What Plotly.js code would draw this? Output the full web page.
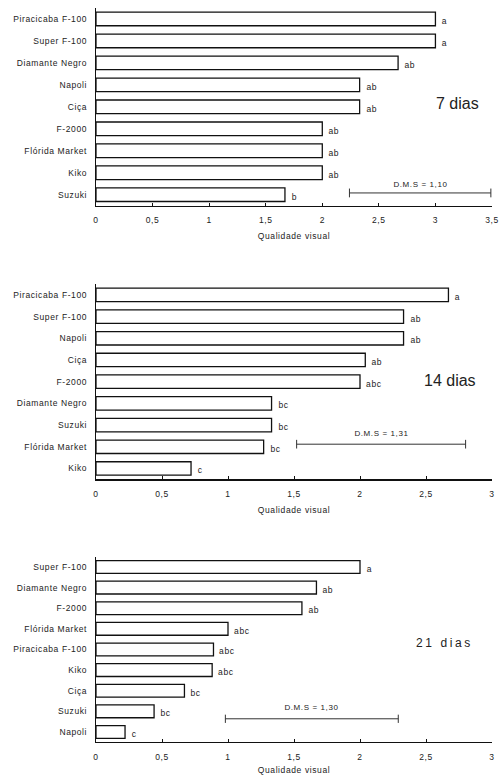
<!DOCTYPE html>
<html>
<head>
<meta charset="utf-8">
<script src="https://cdn.plot.ly/plotly-3.0.1.min.js"></script>
<style>
html,body{margin:0;padding:0;background:#fff;}
#chart text{letter-spacing:0.6px;}
</style>
</head>
<body>
<div id="chart" style="width:504px;height:775px;"></div>
<script>
// ---- Data ----
const cat7 = ['Piracicaba F-100','Super F-100','Diamante Negro','Napoli','Ciça','F-2000','Flórida Market','Kiko','Suzuki'];
const val7 = [3.0, 3.0, 2.67, 2.33, 2.33, 2.0, 2.0, 2.0, 1.67];
const let7 = ['a','a','ab','ab','ab','ab','ab','ab','b'];

const cat14 = ['Piracicaba F-100','Super F-100','Napoli','Ciça','F-2000','Diamante Negro','Suzuki','Flórida Market','Kiko'];
const val14 = [2.67, 2.33, 2.33, 2.04, 2.0, 1.33, 1.33, 1.27, 0.72];
const let14 = ['a','ab','ab','ab','abc','bc','bc','bc','c'];

const cat21 = ['Super F-100','Diamante Negro','F-2000','Flórida Market','Piracicaba F-100','Kiko','Ciça','Suzuki','Napoli'];
const val21 = [2.0, 1.67, 1.56, 1.0, 0.89, 0.88, 0.67, 0.44, 0.22];
const let21 = ['a','ab','ab','abc','abc','abc','bc','bc','c'];

const panelTitles = ['7 dias', '14 dias', '21 dias'];
const dmsLabels = ['D.M.S = 1,10', 'D.M.S = 1,31', 'D.M.S = 1,30'];
const dmsStart = [2.24, 1.52, 0.98];
const dmsEnd = [3.49, 2.80, 2.29];
const xTitle = 'Qualidade visual';

// ---- Build ----
const FONT = '"Liberation Sans", Arial, sans-serif';
const TXT = '#222';
const panels = [
  {cat: cat7, val: val7, lt: let7, xa: 'x', ya: 'y', range: [0, 3.5], dom: [0.7346, 0.9897], dmsY: 7.92, dmsLY: 7.55, tpos: [0.912, 0.866], tsize: 16, tls: 0},
  {cat: cat14, val: val14, lt: let14, xa: 'x2', ya: 'y2', range: [0, 3], dom: [0.3815, 0.6335], dmsY: 6.88, dmsLY: 6.40, tpos: [0.894, 0.5084], tsize: 16, tls: 0},
  {cat: cat21, val: val21, lt: let21, xa: 'x3', ya: 'y3', range: [0, 3], dom: [0.0422, 0.2817], dmsY: 7.36, dmsLY: 6.80, tpos: [0.881, 0.1707], tsize: 12, tls: 2.6}
];

const traces = [];
const annotations = [];
const shapes = [];
const layout = {
  width: 504, height: 775,
  margin: {l: 96, r: 12, t: 0, b: 0},
  paper_bgcolor: '#fff', plot_bgcolor: '#fff',
  showlegend: false,
  separators: ', ',
  font: {family: FONT, size: 8.5, color: TXT}
};

panels.forEach((p, i) => {
  traces.push({
    type: 'bar', orientation: 'h',
    x: p.val, y: p.cat,
    xaxis: p.xa, yaxis: p.ya,
    width: 0.62,
    marker: {color: '#fff', line: {color: '#111', width: 1.3}},
    hoverinfo: 'x+y'
  });
  const xk = p.xa === 'x' ? 'xaxis' : 'xaxis' + p.xa.slice(1);
  const yk = p.ya === 'y' ? 'yaxis' : 'yaxis' + p.ya.slice(1);
  layout[xk] = {
    domain: [0, 1], anchor: p.ya, range: p.range, dtick: 0.5, tick0: 0,
    showgrid: false, zeroline: false, showline: true, linecolor: '#111', linewidth: 1.2,
    ticks: 'inside', ticklen: 3, tickcolor: '#111', tickwidth: 1,
    tickfont: {family: FONT, size: 8.5, color: TXT},
    ticklabelstandoff: 6,
    title: {text: xTitle, font: {family: FONT, size: 8.5, color: TXT}, standoff: 9},
    fixedrange: true
  };
  layout[yk] = {
    domain: p.dom, anchor: p.xa, type: 'category',
    categoryorder: 'array', categoryarray: p.cat,
    range: [8.5, -0.5],
    showgrid: false, zeroline: false, showline: true, linecolor: '#111', linewidth: 1.2,
    ticks: '', tickfont: {family: FONT, size: 8.5, color: TXT},
    ticklabelstandoff: 6,
    fixedrange: true
  };
  // significance letters
  p.cat.forEach((c, j) => {
    annotations.push({
      xref: p.xa, yref: p.ya, x: p.val[j], y: j,
      text: p.lt[j], showarrow: false, xanchor: 'left', yanchor: 'middle',
      xshift: 5, yshift: -2,
      font: {family: FONT, size: 8.5, color: TXT}
    });
  });
  // DMS bar
  shapes.push({type: 'line', xref: p.xa, yref: p.ya, x0: dmsStart[i], x1: dmsEnd[i], y0: p.dmsY, y1: p.dmsY, line: {color: '#333', width: 1}});
  shapes.push({type: 'line', xref: p.xa, yref: p.ya, x0: dmsStart[i], x1: dmsStart[i], y0: p.dmsY - 0.2, y1: p.dmsY + 0.2, line: {color: '#333', width: 1}});
  shapes.push({type: 'line', xref: p.xa, yref: p.ya, x0: dmsEnd[i], x1: dmsEnd[i], y0: p.dmsY - 0.2, y1: p.dmsY + 0.2, line: {color: '#333', width: 1}});
  annotations.push({
    xref: p.xa, yref: p.ya, x: (dmsStart[i] + dmsEnd[i]) / 2, y: p.dmsLY,
    text: dmsLabels[i], showarrow: false, xanchor: 'center', yanchor: 'middle',
    font: {family: FONT, size: 8, color: TXT}
  });
  // panel title
  annotations.push({
    xref: 'paper', yref: 'paper', x: p.tpos[0], y: p.tpos[1],
    text: panelTitles[i], showarrow: false, xanchor: 'center', yanchor: 'middle',
    font: {family: FONT, size: p.tsize, color: TXT}
  });
});
layout.annotations = annotations;
layout.shapes = shapes;

Plotly.newPlot('chart', traces, layout, {displayModeBar: false, staticPlot: true}).then(gd => {
  gd.querySelectorAll('text.annotation-text').forEach(t => {
    const i = panelTitles.indexOf(t.textContent);
    if (i >= 0) t.style.letterSpacing = panels[i].tls + 'px';
  });
});
</script>
</body>
</html>
